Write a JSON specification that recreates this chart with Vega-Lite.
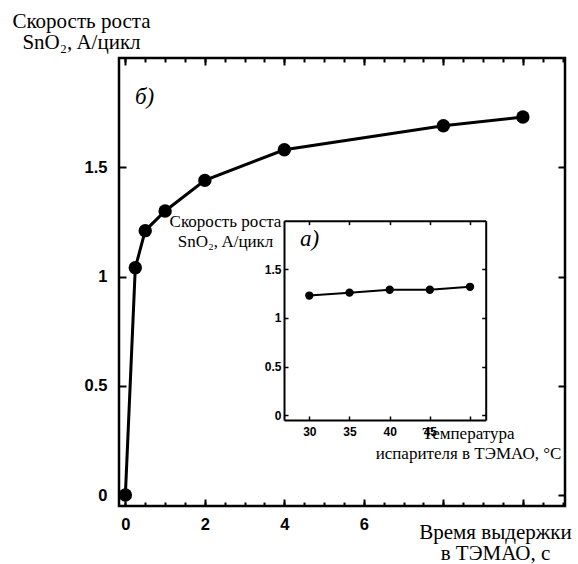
{
  "$schema": "https://vega.github.io/schema/vega-lite/v6.json",
  "width": 446,
  "height": 448,
  "autosize": "none",
  "padding": {"left": 119, "top": 58, "right": 13, "bottom": 58},
  "background": "white",
  "config": {
    "view": {"stroke": "black", "strokeWidth": 2.5},
    "axis": {
      "domain": false,
      "grid": false,
      "labelFont": "Liberation Sans",
      "labelFontWeight": "bold",
      "labelColor": "black",
      "tickColor": "black",
      "titleFont": "Liberation Serif",
      "titleFontWeight": "normal",
      "titleColor": "black",
      "labelFlush": false,
      "labelOverlap": false,
      "domainColor": "black"
    }
  },
  "datasets": {
    "main": [
      {"t": 0, "v": 0},
      {"t": 0.25, "v": 1.04},
      {"t": 0.5, "v": 1.21},
      {"t": 1, "v": 1.3},
      {"t": 2, "v": 1.44},
      {"t": 4, "v": 1.58},
      {"t": 8, "v": 1.69},
      {"t": 10, "v": 1.73}
    ],
    "inset": [
      {"T": 30, "v": 1.23},
      {"T": 35, "v": 1.26},
      {"T": 40, "v": 1.29},
      {"T": 45, "v": 1.29},
      {"T": 50, "v": 1.32}
    ],
    "labelMain": [{"t": 0.24, "v": 1.79, "label": "б)"}],
    "labelInset": [{"T": 28.84, "v": 1.735, "label": "а)"}]
  },
  "layer": [
    {
      "data": {"name": "main"},
      "mark": {"type": "line", "color": "black", "strokeWidth": 3},
      "encoding": {
        "x": {
          "field": "t", "type": "quantitative",
          "scale": {"domain": [-0.16, 11.06], "nice": false, "zero": false},
          "axis": {
            "orient": "bottom",
            "values": [0, 2, 4, 6, 8, 10],
            "labelExpr": "datum.value <= 6 ? datum.label : ''",
            "tickSize": -7, "tickWidth": 2,
            "labelFontSize": 16.5, "labelPadding": 17,
            "title": ["Время выдержки", "в ТЭМАО, с"],
            "titleFontSize": 21, "titleX": 376, "titleY": 32,
            "titleAlign": "center", "titleBaseline": "alphabetic", "titleLineHeight": 21
          }
        },
        "y": {
          "field": "v", "type": "quantitative",
          "scale": {"domain": [-0.05, 2.0], "nice": false, "zero": false},
          "axis": {
            "orient": "left",
            "values": [0, 0.5, 1, 1.5],
            "format": "~g",
            "tickSize": -7, "tickWidth": 2,
            "labelFontSize": 16.5, "labelPadding": 19,
            "title": ["Скорость роста", "SnO₂, A/цикл"],
            "titleFontSize": 21, "titleAngle": 0, "titleX": -38, "titleY": -31,
            "titleAlign": "center", "titleBaseline": "alphabetic", "titleLineHeight": 21
          }
        }
      }
    },
    {
      "data": {"name": "main"},
      "mark": {"type": "point", "filled": true, "color": "black", "opacity": 1, "size": 180},
      "encoding": {
        "x": {
          "field": "t", "type": "quantitative",
          "scale": {"domain": [-0.16, 11.06], "nice": false, "zero": false},
          "axis": {
            "orient": "bottom",
            "values": [0, 0.5, 1, 1.5, 2, 2.5, 3, 3.5, 4, 4.5, 5, 5.5, 6, 6.5, 7, 7.5, 8, 8.5, 9, 9.5, 10, 10.5, 11],
            "tickSize": -4, "tickWidth": 2, "labels": false, "title": null
          }
        },
        "y": {
          "field": "v", "type": "quantitative",
          "scale": {"domain": [-0.05, 2.0], "nice": false, "zero": false},
          "axis": {
            "orient": "right",
            "values": [0, 0.5, 1, 1.5],
            "tickSize": -7, "tickWidth": 2, "labels": false, "title": null
          }
        }
      }
    },
    {
      "data": {"name": "labelMain"},
      "mark": {"type": "text", "font": "Liberation Serif", "fontStyle": "italic", "fontSize": 23, "align": "left", "baseline": "alphabetic", "color": "black"},
      "encoding": {
        "text": {"field": "label"},
        "x": {
          "field": "t", "type": "quantitative",
          "scale": {"domain": [-0.16, 11.06], "nice": false, "zero": false},
          "axis": {
            "orient": "top",
            "values": [0, 2, 4, 6, 8, 10],
            "tickSize": -7, "tickWidth": 2, "labels": false, "title": null
          }
        },
        "y": {
          "field": "v", "type": "quantitative",
          "scale": {"domain": [-0.05, 2.0], "nice": false, "zero": false},
          "axis": null
        }
      }
    },
    {
      "data": {"name": "main"},
      "mark": {"type": "point", "opacity": 0},
      "encoding": {
        "x": {
          "field": "t", "type": "quantitative",
          "scale": {"domain": [-0.16, 11.06], "nice": false, "zero": false},
          "axis": {
            "orient": "top",
            "values": [0, 0.5, 1, 1.5, 2, 2.5, 3, 3.5, 4, 4.5, 5, 5.5, 6, 6.5, 7, 7.5, 8, 8.5, 9, 9.5, 10, 10.5, 11],
            "tickSize": -4, "tickWidth": 2, "labels": false, "title": null
          }
        },
        "y": {
          "field": "v", "type": "quantitative",
          "scale": {"domain": [-0.05, 2.0], "nice": false, "zero": false},
          "axis": null
        }
      }
    },
    {
      "data": {"name": "inset"},
      "mark": {"type": "line", "color": "black", "strokeWidth": 2},
      "encoding": {
        "x": {
          "field": "T", "type": "quantitative",
          "scale": {"domain": [26.85, 51.95], "range": [165, 366.7], "nice": false, "zero": false},
          "axis": {
            "orient": "bottom", "offset": -86,
            "values": [30, 35, 40, 45, 50],
            "labelExpr": "datum.value < 50 ? datum.label : ''",
            "domain": true, "domainWidth": 2,
            "tickSize": -4, "tickWidth": 1.5,
            "labelFontSize": 12, "labelPadding": 10,
            "title": ["Температура", "испарителя в ТЭМАО, °С"],
            "titleFontSize": 17, "titleX": 349, "titleY": 18,
            "titleAlign": "center", "titleBaseline": "alphabetic", "titleLineHeight": 20
          }
        },
        "y": {
          "field": "v", "type": "quantitative",
          "scale": {"domain": [-0.05, 2.0], "range": [362, 162.7], "nice": false, "zero": false},
          "axis": {
            "orient": "left", "offset": -165,
            "values": [0, 0.5, 1, 1.5],
            "format": "~g",
            "domain": true, "domainWidth": 2,
            "tickSize": -4, "tickWidth": 1.5,
            "labelFontSize": 12, "labelPadding": 7,
            "title": ["Скорость роста", "SnO₂, A/цикл"],
            "titleFontSize": 17, "titleAngle": 0, "titleX": -59, "titleY": 168.7,
            "titleAlign": "center", "titleBaseline": "alphabetic", "titleLineHeight": 19.5
          }
        }
      }
    },
    {
      "data": {"name": "inset"},
      "mark": {"type": "point", "filled": true, "color": "black", "opacity": 1, "size": 70},
      "encoding": {
        "x": {
          "field": "T", "type": "quantitative",
          "scale": {"domain": [26.85, 51.95], "range": [165, 366.7], "nice": false, "zero": false},
          "axis": {
            "orient": "top", "offset": -162.7,
            "values": [30, 35, 40, 45, 50],
            "domain": true, "domainWidth": 2,
            "tickSize": -4, "tickWidth": 1.5, "labels": false, "title": null
          }
        },
        "y": {
          "field": "v", "type": "quantitative",
          "scale": {"domain": [-0.05, 2.0], "range": [362, 162.7], "nice": false, "zero": false},
          "axis": {
            "orient": "right", "offset": -79.3,
            "values": [0, 0.5, 1, 1.5],
            "domain": true, "domainWidth": 2,
            "tickSize": -4, "tickWidth": 1.5, "labels": false, "title": null
          }
        }
      }
    },
    {
      "data": {"name": "labelInset"},
      "mark": {"type": "text", "font": "Liberation Serif", "fontStyle": "italic", "fontSize": 23, "align": "left", "baseline": "alphabetic", "color": "black"},
      "encoding": {
        "text": {"field": "label"},
        "x": {
          "field": "T", "type": "quantitative",
          "scale": {"domain": [26.85, 51.95], "range": [165, 366.7], "nice": false, "zero": false},
          "axis": null
        },
        "y": {
          "field": "v", "type": "quantitative",
          "scale": {"domain": [-0.05, 2.0], "range": [362, 162.7], "nice": false, "zero": false},
          "axis": null
        }
      }
    }
  ],
  "resolve": {
    "scale": {"x": "independent", "y": "independent"},
    "axis": {"x": "independent", "y": "independent"}
  }
}
